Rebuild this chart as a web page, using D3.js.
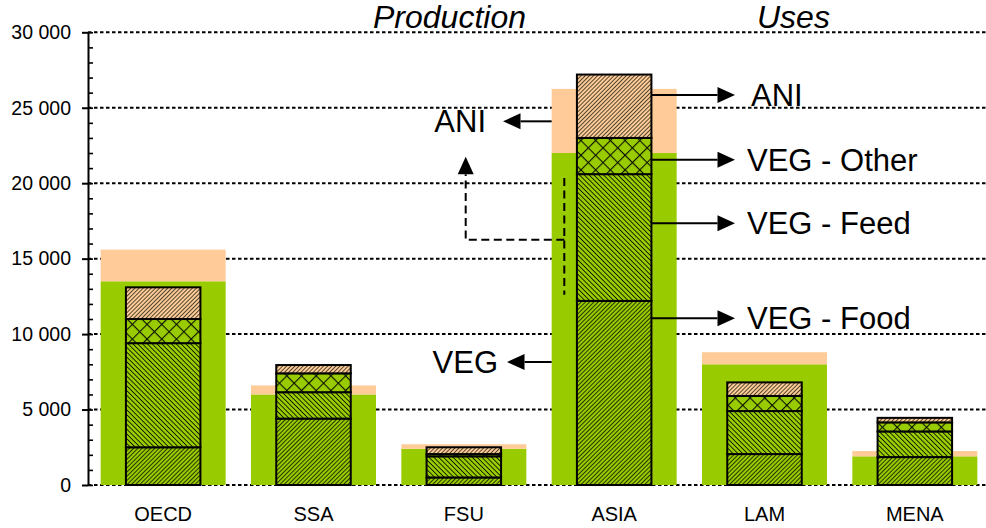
<!DOCTYPE html>
<html>
<head>
<meta charset="utf-8">
<script src="https://cdn.jsdelivr.net/npm/d3@7"></script>
<style>
  html, body { margin: 0; padding: 0; background: #fff; }
  svg { display: block; }
  text { font-family: Arial, "Liberation Sans", sans-serif; fill: #000; }
</style>
</head>
<body>
<svg id="chart" width="986" height="528"></svg>
<script>
// Regions
const categories = ["OECD", "SSA", "FSU", "ASIA", "LAM", "MENA"];

// Production (wide bars), thousand units
const prodVeg = [13500, 6000, 2400, 22000, 8000, 1900];
const prodAni = [2100, 600, 300, 4250, 800, 350];

// Uses (narrow hatched bars), stacked bottom to top
const useFood  = [2500, 4400, 500, 12200, 2050, 1850];
const useFeed  = [6900, 1750, 1400, 8400, 2850, 1700];
const useOther = [1600, 1250, 150, 2400, 1000, 600];
const useAni   = [2100, 550, 450, 4200, 900, 300];

// Axis ticks
const yMajorTicks = [0, 5000, 10000, 15000, 20000, 25000, 30000];
const yMinorStep = 1000;

// Callouts on the ASIA column (values on the y scale)
const rightCallouts = [
  { label: "ANI", value: 25850 },
  { label: "VEG - Other", value: 21550 },
  { label: "VEG - Feed", value: 17350 },
  { label: "VEG - Food", value: 11050 }
];
const leftCallouts = [
  { label: "ANI", value: 24100 },
  { label: "VEG", value: 8150 }
];
// Feed-to-animal dashed path (values on the y scale)
const feedPath = { top: 20350, bottom: 12600, elbow: 16250, tip: 21750 };

const svg = d3.select("#chart");
const W = 986;

const x = d3.scaleBand().domain(categories).range([88, 990]).paddingInner(0).paddingOuter(0);
const y = d3.scaleLinear().domain([0, 30000]).range([485, 32.3]);

const bw = x.bandwidth();
const prodW = 125, useW = 74.5;
const prodX = c => x(c) + (bw - prodW) / 2;
const useX = c => x(c) + (bw - useW) / 2;

const GREEN = "#99CC00", PEACH = "#FFCC99";

// Hatch patterns
const defs = svg.append("defs");
function hatch(id, bg, spacing, angle, width, cross) {
  const p = defs.append("pattern")
    .attr("id", id)
    .attr("patternUnits", "userSpaceOnUse")
    .attr("width", spacing).attr("height", spacing)
    .attr("patternTransform", `rotate(${angle})`);
  p.append("rect").attr("width", spacing).attr("height", spacing).attr("fill", bg);
  p.append("line").attr("x1", 0).attr("y1", 0).attr("x2", 0).attr("y2", spacing)
    .attr("stroke", "#0a0f00").attr("stroke-width", width);
  if (cross) {
    p.append("line").attr("x1", 0).attr("y1", 0).attr("x2", spacing).attr("y2", 0)
      .attr("stroke", "#0a0f00").attr("stroke-width", width);
  }
}
hatch("pFood", GREEN, 3.0, 45, 1.6, false);
hatch("pFeed", GREEN, 3.4, -45, 1.7, false);
hatch("pOther", GREEN, 10.4, 45, 2.2, true);
hatch("pAni", PEACH, 2.9, 45, 1.4, false);

// Dotted gridlines
svg.append("g").selectAll("line").data(yMajorTicks).join("line")
  .attr("x1", 88).attr("x2", W)
  .attr("y1", d => y(d)).attr("y2", d => y(d))
  .attr("stroke", "#000").attr("stroke-width", 2)
  .attr("stroke-dasharray", "3.5 2.5");

// Production bars
const prod = svg.append("g");
prod.selectAll("rect.veg").data(categories).join("rect")
  .attr("class", "veg")
  .attr("x", c => prodX(c)).attr("width", prodW)
  .attr("y", (c, i) => y(prodVeg[i])).attr("height", (c, i) => y(0) - y(prodVeg[i]))
  .attr("fill", GREEN);
prod.selectAll("rect.ani").data(categories).join("rect")
  .attr("class", "ani")
  .attr("x", c => prodX(c)).attr("width", prodW)
  .attr("y", (c, i) => y(prodVeg[i] + prodAni[i]))
  .attr("height", (c, i) => y(prodVeg[i]) - y(prodVeg[i] + prodAni[i]))
  .attr("fill", PEACH);

// Uses bars (stacked)
const useKeys = ["food", "feed", "other", "ani"];
const useFills = { food: "url(#pFood)", feed: "url(#pFeed)", other: "url(#pOther)", ani: "url(#pAni)" };
const useRows = categories.map((c, i) => ({
  cat: c, food: useFood[i], feed: useFeed[i], other: useOther[i], ani: useAni[i]
}));
const stacked = d3.stack().keys(useKeys)(useRows);
svg.append("g").selectAll("g").data(stacked).join("g")
  .attr("fill", s => useFills[s.key])
  .selectAll("rect").data(s => s).join("rect")
  .attr("x", d => useX(d.data.cat)).attr("width", useW)
  .attr("y", d => y(d[1])).attr("height", d => y(d[0]) - y(d[1]))
  .attr("stroke", "#000").attr("stroke-width", 2);

// Y axis: major ticks crossing the axis, minor ticks inside
const fmt = d3.formatLocale({ decimal: ",", thousands: " ", grouping: [3], currency: ["", ""] }).format(",");
const yAxis = svg.append("g").attr("transform", "translate(88,0)")
  .call(d3.axisLeft(y).tickValues(yMajorTicks).tickSize(6).tickSizeOuter(0).tickPadding(11).tickFormat(fmt));
yAxis.select(".domain").attr("stroke", "#000").attr("stroke-width", 2);
yAxis.selectAll(".tick line").attr("stroke", "#000").attr("stroke-width", 2);
yAxis.selectAll(".tick text").attr("font-size", 19.5)
  .style("font-family", 'Arial, "Liberation Sans", sans-serif').attr("fill", "#000");

const minorTicks = d3.range(0, 30001, yMinorStep);
svg.append("g").attr("transform", "translate(88,0)")
  .call(d3.axisRight(y).tickValues(minorTicks).tickSize(5).tickSizeOuter(0).tickFormat(""))
  .call(g => g.select(".domain").remove())
  .call(g => g.selectAll(".tick line").attr("stroke", "#000").attr("stroke-width", 1.6));

// Category labels
svg.append("g").selectAll("text").data(categories).join("text")
  .attr("x", c => x(c) + bw / 2).attr("y", 521)
  .attr("text-anchor", "middle").attr("font-size", 20)
  .text(c => c);

// Column headers
svg.append("text").attr("x", 373).attr("y", 28).attr("font-size", 32)
  .attr("font-style", "italic").text("Production");
svg.append("text").attr("x", 757).attr("y", 28).attr("font-size", 32)
  .attr("font-style", "italic").text("Uses");

// Arrow helper: straight line ending in a filled triangle
function arrow(g, x1, y1, x2, y2, dash) {
  const len = Math.hypot(x2 - x1, y2 - y1);
  const ux = (x2 - x1) / len, uy = (y2 - y1) / len;
  const headL = 17.5, headW = 8;
  const bx = x2 - ux * headL, by = y2 - uy * headL;
  g.append("line").attr("x1", x1).attr("y1", y1).attr("x2", bx).attr("y2", by)
    .attr("stroke", "#000").attr("stroke-width", 2)
    .attr("stroke-dasharray", dash || null);
  g.append("path")
    .attr("d", `M${x2},${y2}L${bx - uy * headW},${by + ux * headW}L${bx + uy * headW},${by - ux * headW}Z`)
    .attr("fill", "#000");
}

const ann = svg.append("g");
const asia = "ASIA";
const useRight = useX(asia) + useW;
const prodLeft = prodX(asia);

rightCallouts.forEach(d => {
  arrow(ann, useRight, y(d.value), 735, y(d.value));
  ann.append("text").attr("x", d.label === "ANI" ? 751 : 747).attr("y", y(d.value))
    .attr("dy", "0.36em").attr("font-size", 31).text(d.label);
});

const leftTips = { ANI: 503, VEG: 507 };
const leftText = { ANI: 486, VEG: 498 };
leftCallouts.forEach(d => {
  arrow(ann, prodLeft, y(d.value), leftTips[d.label], y(d.value));
  ann.append("text").attr("x", leftText[d.label]).attr("y", y(d.value))
    .attr("dy", "0.36em").attr("text-anchor", "end").attr("font-size", 31).text(d.label);
});

// Dashed path: feed use going back up to animal products
const dashX = (prodLeft + useX(asia)) / 2;
const dashLeft = 465.7;
ann.append("line")
  .attr("x1", dashX).attr("x2", dashX)
  .attr("y1", y(feedPath.top)).attr("y2", y(feedPath.bottom))
  .attr("stroke", "#000").attr("stroke-width", 2).attr("stroke-dasharray", "8 4.5");
ann.append("path")
  .attr("d", `M${dashX},${y(feedPath.elbow)}H${dashLeft}V${y(feedPath.tip) + 17.5}`)
  .attr("fill", "none")
  .attr("stroke", "#000").attr("stroke-width", 2).attr("stroke-dasharray", "8 4.5");
arrow(ann, dashLeft, y(feedPath.tip) + 17.5, dashLeft, y(feedPath.tip));
</script>
</body>
</html>
